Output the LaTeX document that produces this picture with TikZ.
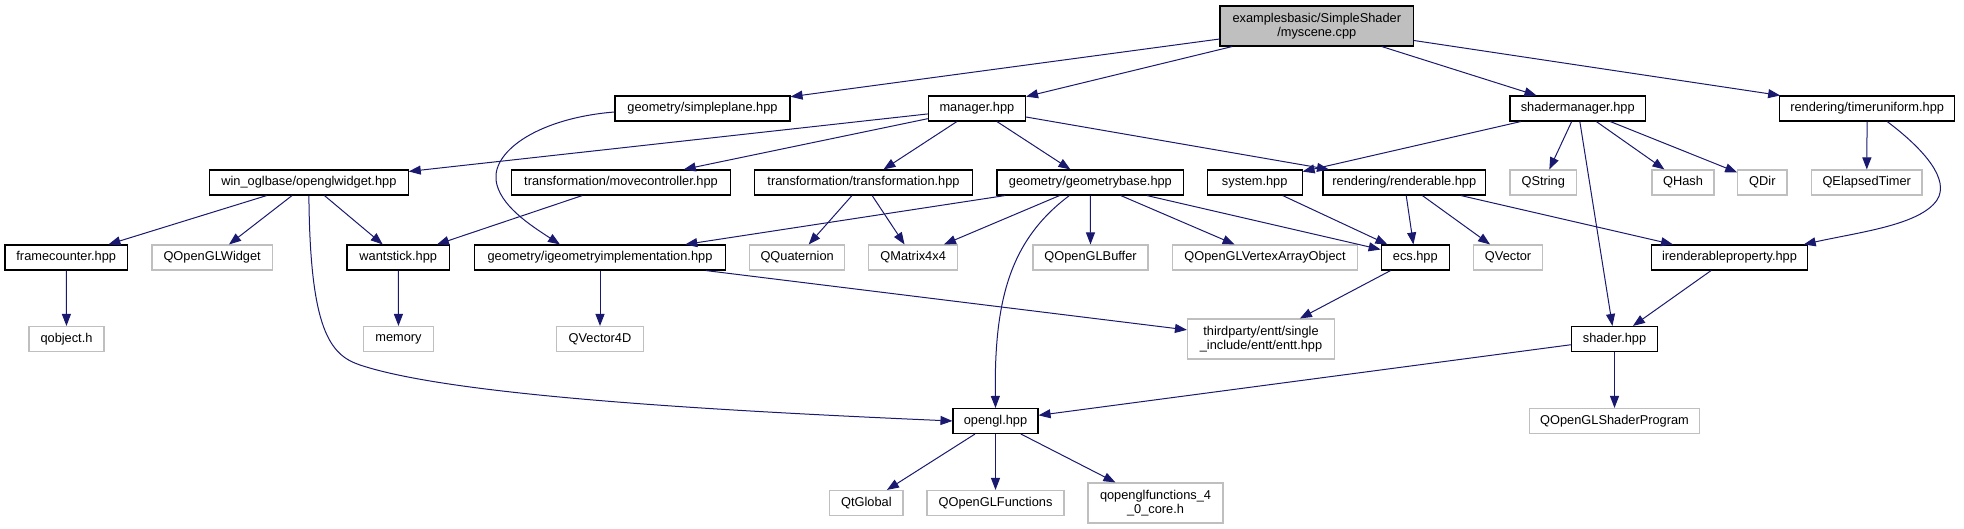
\documentclass[tikz,border=0pt]{standalone}
\usepackage{fontspec}
\setmainfont{Liberation Sans}
\usetikzlibrary{arrows.meta}
\definecolor{edgeblue}{HTML}{191970}
\definecolor{extgray}{HTML}{BFBFBF}
\begin{document}
\begin{tikzpicture}[x=1pt,y=-1pt,
  base/.style={rectangle, inner sep=0pt, minimum height=25pt, font=\fontsize{12.8}{14}\selectfont, text=black, fill=white, align=center},
  doc/.style={base, draw=black, line width=1.1pt},
  ext/.style={base, draw=extgray, line width=1.1pt},
  edge/.style={draw=edgeblue, line width=1pt, -{Triangle[length=12pt,width=9pt]}}]
\useasboundingbox (0,0) rectangle (1964,529);
% rank 0
\node[doc, fill=extgray, minimum width=193.6pt, minimum height=40pt] (root) at (1316.8,26) {examplesbasic/SimpleShader\\/myscene.cpp};
% rank 1
\node[doc, minimum width=175pt] (simpleplane) at (702.5,108.5) {geometry/simpleplane.hpp};
\node[doc, minimum width=97.2pt] (manager) at (976.9,108.5) {manager.hpp};
\node[doc, minimum width=135.5pt] (shadermgr) at (1577.75,108.5) {shadermanager.hpp};
\node[doc, minimum width=175.5pt] (timeruni) at (1867.15,108.5) {rendering/timeruniform.hpp};
% rank 2
\node[doc, minimum width=198.6pt] (oglwidget) at (308.9,182.5) {win\_oglbase/openglwidget.hpp};
\node[doc, minimum width=219pt] (movectl) at (621,182.5) {transformation/movecontroller.hpp};
\node[doc, minimum width=218pt] (transf) at (863.5,182.5) {transformation/transformation.hpp};
\node[doc, minimum width=186.8pt] (geombase) at (1090.4,182.5) {geometry/geometrybase.hpp};
\node[doc, minimum width=94.7pt] (system) at (1254.7,182.5) {system.hpp};
\node[doc, minimum width=162.6pt] (renderable) at (1404.3,182.5) {rendering/renderable.hpp};
\node[ext, minimum width=66.5pt] (qstring) at (1543.25,182.5) {QString};
\node[ext, minimum width=62pt] (qhash) at (1683,182.5) {QHash};
\node[ext, minimum width=49.3pt] (qdir) at (1762.35,182.5) {QDir};
\node[ext, minimum width=110.6pt] (qelapsed) at (1866.7,182.5) {QElapsedTimer};
% rank 3
\node[doc, minimum width=122.5pt] (framecnt) at (66.25,257.5) {framecounter.hpp};
\node[ext, minimum width=120.3pt] (qoglwidget) at (212.15,257.5) {QOpenGLWidget};
\node[doc, minimum width=102.5pt] (wantstick) at (398.25,257.5) {wantstick.hpp};
\node[doc, minimum width=250.7pt] (igeom) at (600,257.5) {geometry/igeometryimplementation.hpp};
\node[ext, minimum width=94.7pt] (qquat) at (797.15,257.5) {QQuaternion};
\node[ext, minimum width=89.3pt] (qmat) at (913.15,257.5) {QMatrix4x4};
\node[ext, minimum width=115pt] (qoglbuf) at (1090.5,257.5) {QOpenGLBuffer};
\node[ext, minimum width=185.3pt] (qvao) at (1265,257.5) {QOpenGLVertexArrayObject};
\node[doc, minimum width=68.2pt] (ecs) at (1415.3,257.5) {ecs.hpp};
\node[ext, minimum width=69.4pt] (qvector) at (1508.1,257.5) {QVector};
\node[doc, minimum width=155.3pt] (irprop) at (1729.5,257.5) {irenderableproperty.hpp};
% rank 4
\node[ext, minimum width=75pt] (qobject) at (66.5,339) {qobject.h};
\node[ext, minimum width=70pt] (memory) at (398.5,339) {memory};
\node[ext, minimum width=87pt] (qvec4d) at (600,339) {QVector4D};
\node[ext, minimum width=147pt, minimum height=40pt] (entt) at (1261,339) {thirdparty/entt/single\\\_include/entt/entt.hpp};
\node[doc, minimum width=86.3pt] (shader) at (1614.5,339) {shader.hpp};
% rank 5
\node[doc, minimum width=85pt] (opengl) at (995.5,421) {opengl.hpp};
\node[ext, minimum width=170pt] (qshaderprog) at (1614.5,421) {QOpenGLShaderProgram};
% rank 6
\node[ext, minimum width=73.2pt] (qtglobal) at (866.4,503) {QtGlobal};
\node[ext, minimum width=137pt] (qoglfunc) at (995.5,503) {QOpenGLFunctions};
\node[ext, minimum width=135pt, minimum height=40pt] (qoglfunc40) at (1155.5,503) {qopenglfunctions\_4\\\_0\_core.h};
% edges
\draw[edge] (root) -- (simpleplane);
\draw[edge] (root) -- (manager);
\draw[edge] (root) -- (shadermgr);
\draw[edge] (root) -- (timeruni);
\draw[edge] ([yshift=-3.5pt]simpleplane.west) .. controls (540,118) and (493,150) .. (496,180) .. controls (499,205) and (530,225) .. ([xshift=-40pt]igeom.north);
\draw[edge] (manager) -- (oglwidget);
\draw[edge] (manager) -- (movectl);
\draw[edge] (manager) -- (transf);
\draw[edge] (manager) -- (geombase);
\draw[edge] (manager) -- (renderable);
\draw[edge] (shadermgr) -- (system);
\draw[edge] (shadermgr) -- (qstring);
\draw[edge] (shadermgr) -- (shader);
\draw[edge] (shadermgr) -- (qhash);
\draw[edge] (shadermgr) -- (qdir);
\draw[edge] (timeruni) -- (qelapsed);
\draw[edge] ([xshift=20pt]timeruni.south) .. controls (1925,150) and (1950,180) .. (1937,200) .. controls (1920,225) and (1860,232) .. ([xshift=-4pt]irprop.north east);
\draw[edge] (oglwidget) -- (framecnt);
\draw[edge] (oglwidget) -- (qoglwidget);
\draw[edge] (oglwidget) -- (wantstick);
\draw[edge] (oglwidget.south) .. controls (310,330) and (330,355) .. (360,365) .. controls (450,395) and (700,410) .. (opengl.west);
\draw[edge] (movectl) -- (wantstick);
\draw[edge] (transf) -- (qquat);
\draw[edge] (transf) -- (qmat);
\draw[edge] (geombase) -- (igeom);
\draw[edge] (geombase) -- (qmat);
\draw[edge] ([xshift=-21pt]geombase.south) .. controls (1010,240) and (994,300) .. (opengl.north);
\draw[edge] (geombase) -- (qoglbuf);
\draw[edge] (geombase) -- (qvao);
\draw[edge] (geombase) -- (ecs);
\draw[edge] (system) -- (ecs);
\draw[edge] (renderable) -- (ecs);
\draw[edge] (renderable) -- (qvector);
\draw[edge] (renderable) -- (irprop);
\draw[edge] (framecnt) -- (qobject);
\draw[edge] (wantstick) -- (memory);
\draw[edge] (igeom) -- (qvec4d);
\draw[edge] (igeom) -- (entt);
\draw[edge] (ecs) -- (entt);
\draw[edge] (irprop) -- (shader);
\draw[edge] (shader) -- (opengl);
\draw[edge] (shader) -- (qshaderprog);
\draw[edge] (opengl) -- (qtglobal);
\draw[edge] (opengl) -- (qoglfunc);
\draw[edge] (opengl) -- (qoglfunc40);
\end{tikzpicture}
\end{document}
